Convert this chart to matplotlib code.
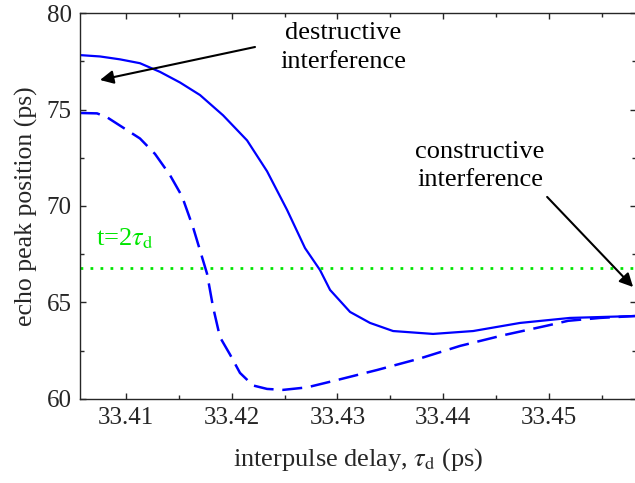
import matplotlib
matplotlib.use("Agg")
import matplotlib.pyplot as plt
from matplotlib.ticker import MultipleLocator

plt.rcParams['font.family'] = ['Liberation Serif', 'DejaVu Serif']
plt.rcParams['mathtext.fontset'] = 'stix'

# interpulse delay (ps) and echo peak position (ps)
delay_solid = [33.40565, 33.40754, 33.40943, 33.41132, 33.41322, 33.41511,
               33.41700, 33.41918, 33.42145, 33.42334, 33.42523, 33.42693,
               33.42835, 33.42930, 33.43119, 33.43308, 33.43526, 33.43904,
               33.44283, 33.44727, 33.45200, 33.45823]
peak_solid = [77.82, 77.75, 77.60, 77.40, 76.95, 76.40,
              75.75, 74.70, 73.40, 71.80, 69.80, 67.82,
              66.68, 65.65, 64.51, 63.94, 63.52, 63.37,
              63.52, 63.94, 64.20, 64.30]

delay_dashed = [33.40565, 33.40726, 33.40820, 33.41132, 33.41274, 33.41416,
                33.41530, 33.41634, 33.41700, 33.41766, 33.41823, 33.41889,
                33.41984, 33.42078, 33.42201, 33.42334, 33.42485, 33.42712,
                33.42996, 33.43374, 33.43781, 33.44160, 33.44566, 33.44983,
                33.45181, 33.45484, 33.45823]
peak_dashed = [74.82, 74.80, 74.60, 73.50, 72.70, 71.60,
               70.50, 68.90, 67.70, 66.50, 64.77, 63.20,
               62.30, 61.35, 60.70, 60.52, 60.47, 60.60,
               60.98, 61.50, 62.10, 62.75, 63.30, 63.80,
               64.05, 64.20, 64.30]

t_2tau = 66.79
x_min, x_max = 33.40565, 33.45823

fig = plt.figure(figsize=(6.35, 4.83), dpi=100)
ax = fig.add_axes([0.126, 0.174, 0.8755, 0.799])

ax.plot(delay_solid, peak_solid, color='#0000ff', lw=1.6)
ax.plot(delay_dashed, peak_dashed, color='#0000ff', lw=1.8, dashes=(8, 3.5))
ax.axhline(t_2tau, color='#00e600', lw=2.0, dashes=(1, 2.6))

ax.text(33.4072, 67.95, r't=2$\tau_{\rm d}$', color='#00e600', fontsize=19)

ax.text(33.43053, 78.2, 'destructive\ninterference', ha='center', va='center',
        fontsize=19, linespacing=1.4)
ax.annotate('', xy=(33.40754, 76.53), xytext=(33.42220, 78.24),
            arrowprops=dict(arrowstyle='-|>', color='k', lw=1.5,
                            mutation_scale=20, shrinkA=0, shrinkB=0))

ax.text(33.44349, 72.07, 'constructive\ninterference', ha='center', va='center',
        fontsize=19, linespacing=1.4)
ax.annotate('', xy=(33.45796, 65.80), xytext=(33.44983, 70.47),
            arrowprops=dict(arrowstyle='-|>', color='k', lw=1.5,
                            mutation_scale=20, shrinkA=0, shrinkB=0))

ax.set_xlim(x_min, x_max)
ax.set_ylim(60, 80)
ax.xaxis.set_major_locator(MultipleLocator(0.01))
ax.xaxis.set_minor_locator(MultipleLocator(0.005))
ax.yaxis.set_major_locator(MultipleLocator(5))
ax.yaxis.set_minor_locator(MultipleLocator(2.5))
ax.xaxis.set_major_formatter(plt.FuncFormatter(lambda v, p: f'{v:.2f}'))

ax.tick_params(which='both', direction='in', top=True, right=True,
               color='#262626', labelcolor='#262626', labelsize=18, width=1)
ax.tick_params(which='major', length=4.5, pad=6)
ax.tick_params(which='minor', length=3)
for s in ax.spines.values():
    s.set_color('#262626')
    s.set_linewidth(1)

ax.set_xlabel(r'interpulse delay, $\tau_{\rm d}$ (ps)', fontsize=19,
              color='#262626', labelpad=12)
ax.set_ylabel('echo peak position (ps)', fontsize=18.5, color='#262626',
              labelpad=6)

fig.savefig('out.png', dpi=100)
